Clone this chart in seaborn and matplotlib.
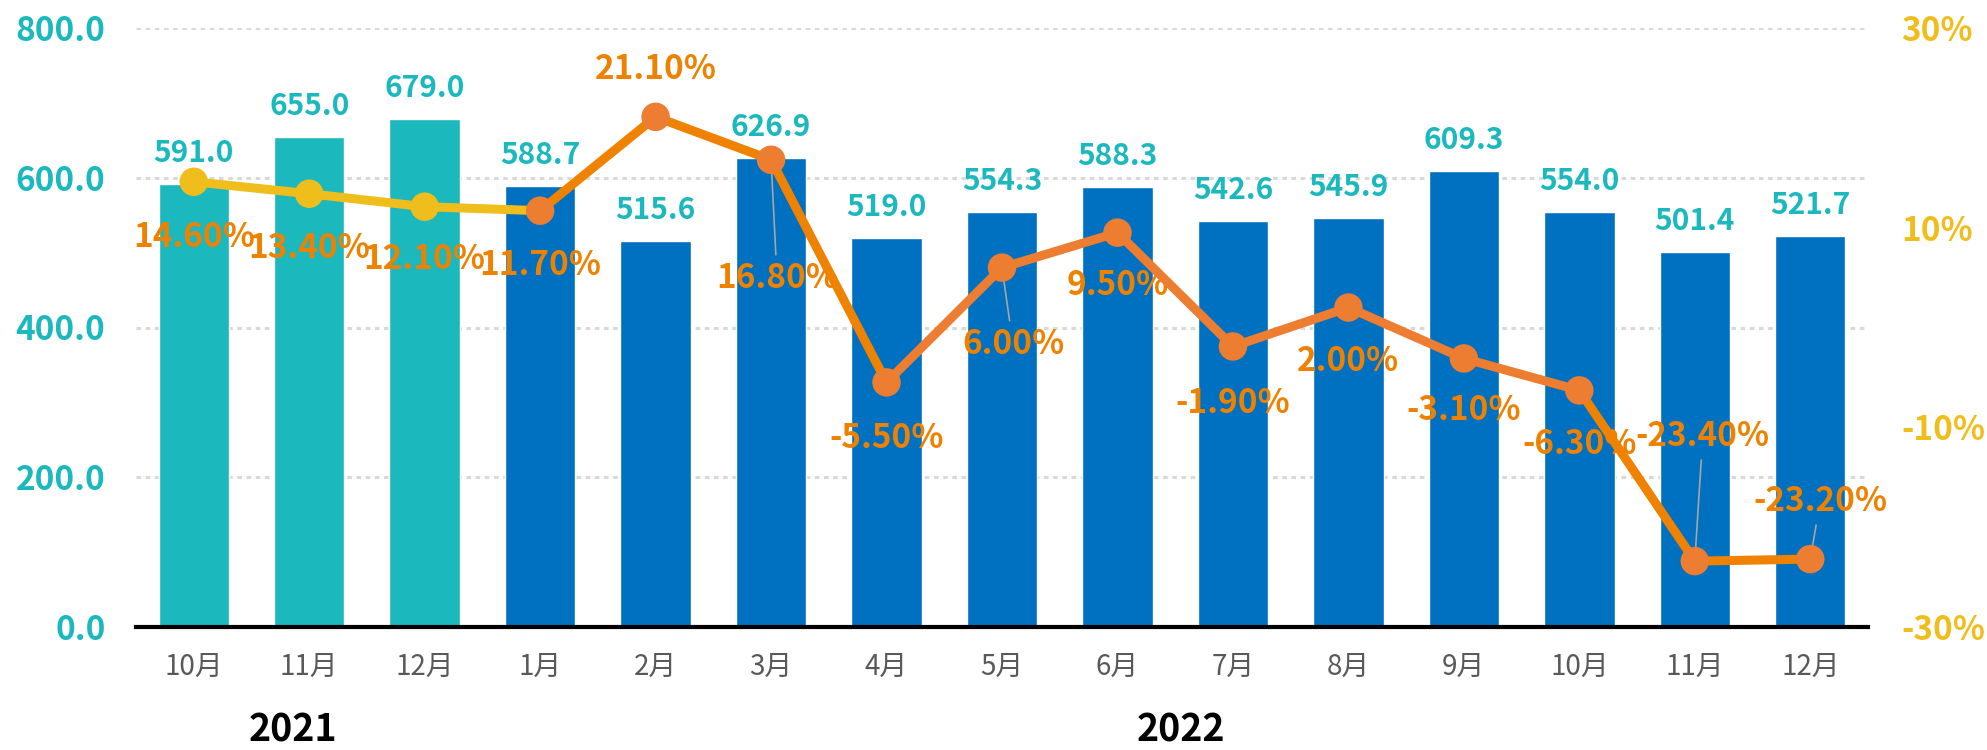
import matplotlib
matplotlib.use("Agg")
import pandas as pd
import matplotlib.pyplot as plt
import seaborn as sns

# Data
months = ["10月", "11月", "12月", "1月", "2月", "3月", "4月", "5月", "6月",
          "7月", "8月", "9月", "10月", "11月", "12月"]
years = ["2021"] * 3 + ["2022"] * 12
values = [591.0, 655.0, 679.0, 588.7, 515.6, 626.9, 519.0, 554.3, 588.3,
          542.6, 545.9, 609.3, 554.0, 501.4, 521.7]
growth = [14.6, 13.4, 12.1, 11.7, 21.1, 16.8, -5.5, 6.0, 9.5,
          -1.9, 2.0, -3.1, -6.3, -23.4, -23.2]
left_ticks = [0, 200, 400, 600, 800]
right_ticks = [-30, -10, 10, 30]
year_names = ["2021", "2022"]
year_centers = [0.86, 8.55]

# Styles
TEAL = "#1BB8BD"
BLUE = "#0070C0"
YELLOW = "#F0BE1C"
ORANGE_TXT = "#EE8200"
ORANGE_DK = "#EF8200"
ORANGE_LT = "#ED7D31"
seg_colors = [YELLOW] * 3 + [ORANGE_DK] * 3 + [ORANGE_LT] * 6 + [ORANGE_DK] * 2
marker_colors = [YELLOW] * 3 + [ORANGE_LT] * 12
# label offsets in pixels (dx, dy) and whether a leader line is drawn
pct_offsets = [(0, -56), (0, -55), (0, -53), (0, -55), (0, 47), (6, -119), (0, -56),
               (11, -77), (0, -53), (0, -57), (0, -54), (0, -52), (0, -54), (8, 125), (10, 58)]
leaders = [False] * 5 + [True, False, True] + [False] * 5 + [True, True]

sns.set_style("white")
plt.rcParams['font.family'] = ['Noto Sans CJK SC', 'DejaVu Sans']

fig = plt.figure(figsize=(19.87, 7.5), dpi=100)
ax = fig.add_axes([136 / 1987, 123 / 750, 1732 / 1987, 599 / 750])

df = pd.DataFrame({'pos': range(len(values)), 'value': values, 'year': years})
sns.barplot(data=df, x='pos', y='value', hue='year', palette={'2021': TEAL, '2022': BLUE},
            dodge=False, width=0.61, saturation=1, legend=False, ax=ax)
ax.set_xlabel('')
ax.set_ylabel('')
ax.set_xlim(-0.5, len(values) - 0.5)
ax.set_ylim(0, 800)
ax.set_yticks(left_ticks, labels=[f"{t:.1f}" for t in left_ticks])
ax.set_xticks(range(len(months)), labels=months)
ax.tick_params(axis='y', length=0, pad=22, labelsize=24, labelcolor=TEAL)
ax.tick_params(axis='x', length=0, pad=18, labelsize=20, labelcolor='#595959')
for lab in ax.get_yticklabels():
    lab.set_fontweight('bold')
ax.yaxis.grid(True, color='#D9D9D9', linestyle=(0, (1.5, 1.5)), linewidth=2.2)
ax.set_axisbelow(True)
for s in ['top', 'left', 'right']:
    ax.spines[s].set_visible(False)
ax.spines['bottom'].set(color='black', linewidth=3)

for i, v in enumerate(values):
    ax.annotate(f"{v:.1f}", (i, v), xytext=(0, 31), textcoords='offset pixels',
                ha='center', va='center', color=TEAL, fontsize=21.5, fontweight='bold')

for name, xc in zip(year_names, year_centers):
    ax.text(xc, -0.172, name, transform=ax.get_xaxis_transform(), ha='center', va='center',
            fontsize=27, fontweight='black', color='black')

ax2 = ax.twinx()
ax2.set_ylim(-30, 30)
ax2.set_yticks(right_ticks, labels=[f"{t}%" for t in right_ticks])
ax2.tick_params(axis='y', length=0, pad=24, labelsize=24, labelcolor=YELLOW)
for lab in ax2.get_yticklabels():
    lab.set_fontweight('bold')
for s in ax2.spines.values():
    s.set_visible(False)

for i in range(len(growth) - 1):
    ax2.plot([i, i + 1], growth[i:i + 2], color=seg_colors[i], lw=6.5,
             solid_capstyle='round', zorder=3)
ax2.scatter(range(len(growth)), growth, s=420, c=marker_colors, linewidths=0, zorder=4)

for i, g in enumerate(growth):
    dx, dy = pct_offsets[i]
    arrow = dict(arrowstyle='-', color='#A6A6A6', lw=1.2, shrinkA=3, shrinkB=0) if leaders[i] else None
    ax2.annotate(f"{g:.2f}%", (i, g), xytext=(dx, dy), textcoords='offset pixels',
                 ha='center', va='center', color=ORANGE_TXT, fontsize=24, fontweight='bold',
                 arrowprops=arrow, zorder=2)

fig.savefig("out.png", dpi=100)
